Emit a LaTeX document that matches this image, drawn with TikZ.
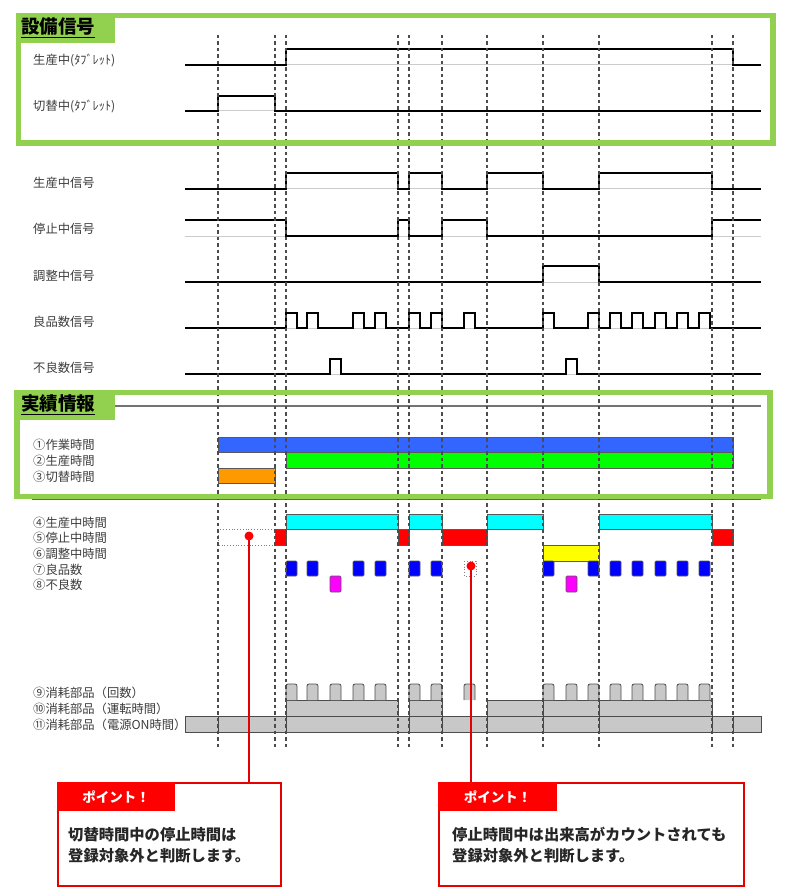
\documentclass[tikz,border=0pt]{standalone}
\usepackage{fontspec}
\setmainfont{Noto Sans CJK JP}
\definecolor{tgreen}{RGB}{146,208,80}
\definecolor{labelgray}{RGB}{60,60,60}
\definecolor{barblue}{RGB}{51,102,255}
\definecolor{bargreen}{RGB}{0,255,0}
\definecolor{barorange}{RGB}{255,153,0}
\definecolor{barcyan}{RGB}{0,255,255}
\definecolor{barred}{RGB}{255,0,0}
\definecolor{baryellow}{RGB}{255,255,0}
\definecolor{sqblue}{RGB}{0,0,255}
\definecolor{sqmag}{RGB}{255,0,255}
\definecolor{consgray}{RGB}{200,200,200}
\definecolor{ptred}{RGB}{230,0,0}
\begin{document}
\begin{tikzpicture}[x=1pt,y=-1pt,
  lbl/.style={anchor=west, text=labelgray, font=\fontsize{12.3}{14}\selectfont, inner sep=0pt},
  ttl/.style={anchor=west, text=black, font=\fontsize{18.5}{20}\selectfont\bfseries, inner sep=0pt},
  sig/.style={line width=1.5pt, black, line join=miter},
  basel/.style={line width=1pt, black!20},
  vdash/.style={line width=1.2pt, dash pattern=on 3.5pt off 3pt, black!70},
  gbox/.style={draw=tgreen, line width=5.5pt},
  bar/.style={draw=black!65, line width=0.6pt},
  cons/.style={draw=black!70, fill=consgray, line width=0.8pt},
  consline/.style={draw=black!75, line width=0.9pt},
  dotbox/.style={draw=black!50, dotted, line width=0.8pt},
  ptbox/.style={draw=ptred, line width=1.6pt, anchor=north west, inner sep=0pt},
  pttab/.style={fill=barred, anchor=north west, inner sep=0pt, text=white,
     font=\fontsize{13.5}{15}\selectfont\bfseries},
  pttext/.style={anchor=west, align=left, inner sep=0pt, text=black!85,
     font=\fontsize{15.3}{20.5}\selectfont\bfseries},
  reddot/.style={fill=barred, draw=none}
]
\useasboundingbox (0,0) rectangle (802,896);

% ---------- baselines (grey) ----------
\foreach \y in {65,111,189,236,282,328,374}
  \draw[basel] (185,\y) -- (761,\y);

% ---------- signals ----------
\draw[sig] (185,65) -- (286,65) -- (286,49) -- (733,49) -- (733,65) -- (761,65);
\draw[sig] (185,111) -- (218,111) -- (218,96) -- (275,96) -- (275,111) -- (761,111);
\draw[sig] (185,189) -- (286,189) -- (286,173) -- (398,173) -- (398,189) -- (409,189)
  -- (409,173) -- (442,173) -- (442,189) -- (487,189) -- (487,173) -- (543,173)
  -- (543,189) -- (599,189) -- (599,173) -- (712,173) -- (712,189) -- (761,189);
\draw[sig] (185,220) -- (286,220) -- (286,236) -- (398,236) -- (398,220) -- (409,220)
  -- (409,236) -- (442,236) -- (442,220) -- (487,220) -- (487,236) -- (712,236)
  -- (712,220) -- (761,220);
\draw[sig] (185,282) -- (543,282) -- (543,266) -- (599,266) -- (599,282) -- (761,282);
\draw[sig] (185,328)
  \foreach \s in {286,307,353,375,409,431,464,543,588,610,632,655,677,699}
   { -- (\s,328) -- (\s,313) -- ({\s+11},313) -- ({\s+11},328) } -- (761,328);
\draw[sig] (185,374)
  \foreach \s in {330,566}
   { -- (\s,374) -- (\s,359) -- ({\s+11},359) -- ({\s+11},374) } -- (761,374);

% ---------- signal labels ----------
\node[lbl] (l1) at (33,60) {生産中(ﾀﾌﾞﾚｯﾄ)};
\node[lbl] (l2) at (33,106) {切替中(ﾀﾌﾞﾚｯﾄ)};
\node[lbl] (l3) at (33,183) {生産中信号};
\node[lbl] (l4) at (33,229) {停止中信号};
\node[lbl] (l5) at (33,276) {調整中信号};
\node[lbl] (l6) at (33,322) {良品数信号};
\node[lbl] (l7) at (33,368) {不良数信号};

% ---------- result section lines ----------
\draw[line width=2.5pt, black!55] (115,406) -- (761,406);
\draw[line width=1.5pt, black!60] (32,499) -- (761,499);

% ---------- result bars ----------
\draw[bar, fill=barblue] (218,437) rectangle (733,452);
\draw[bar, fill=bargreen] (286,452) rectangle (733,468);
\draw[bar, fill=barorange] (218,468) rectangle (275,483);

\foreach \a/\b in {286/398,409/442,487/543,599/712}
  \draw[bar, fill=barcyan] (\a,514) rectangle (\b,529);
\foreach \a/\b in {275/286,398/409,442/487,712/733}
  \draw[bar, fill=barred] (\a,529) rectangle (\b,545);
\draw[dotbox] (218,529) rectangle (275,545);
\draw[bar, fill=baryellow] (543,545) rectangle (599,561);
\foreach \s in {286,307,353,375,409,431,543,588,610,632,655,677,699}
  \draw[bar, fill=sqblue, rounded corners=1pt] (\s,561) rectangle ({\s+11},576);
\draw[dotbox] (464,561) rectangle (476,576);
\foreach \s in {330,566}
  \draw[bar, fill=sqmag, rounded corners=1pt] (\s,576) rectangle ({\s+11},592);

% ---------- consumables ----------
\draw[cons] (185,716) rectangle (761,732);
\foreach \a/\b in {286/398,409/442,487/712}
  \draw[cons] (\a,700) rectangle (\b,716);
\foreach \s in {286,307,330,353,375,409,431,464,543,566,588,610,632,655,677,699}
  \draw[cons, rounded corners=2pt] (\s,700) -- (\s,684) -- ({\s+11},684) -- ({\s+11},700);
\foreach \x in {218,286,409,442,487,543,599,712,733}
  \draw[consline] (\x,716) -- (\x,732);
\foreach \x in {543,599}
  \draw[consline] (\x,700) -- (\x,716);

% ---------- result labels ----------
\node[lbl] (r1) at (33,445) {①作業時間};
\node[lbl] (r2) at (33,461) {②生産時間};
\node[lbl] (r3) at (33,477) {③切替時間};
\node[lbl] (r4) at (33,523) {④生産中時間};
\node[lbl] (r5) at (33,538) {⑤停止中時間};
\node[lbl] (r6) at (33,554) {⑥調整中時間};
\node[lbl] (r7) at (33,570) {⑦良品数};
\node[lbl] (r8) at (33,585) {⑧不良数};
\node[lbl] (r9) at (33,693) {⑨消耗部品（回数）};
\node[lbl] (r10) at (33,709) {⑩消耗部品（運転時間）};
\node[lbl] (r11) at (33,725) {⑪消耗部品（電源ON時間）};

% ---------- dashed time markers ----------
\foreach \x in {218,275,286,398,409,442,487,543,599,712,733}
  \draw[vdash] (\x,35) -- (\x,748);

% ---------- green frames ----------
\draw[gbox] (18.5,15.5) rectangle (773,143);
\fill[tgreen] (16,13) rectangle (115,43);
\node[ttl] (t1) at (21,28) {\underline{設備信号}};
\draw[gbox] (17,392.5) rectangle (770,496.5);
\fill[tgreen] (14,390) rectangle (115,420);
\node[ttl] (t2) at (21,405) {\underline{実績情報}};

% ---------- point boxes ----------
\node[ptbox, minimum width=223pt, minimum height=103pt] (p1) at (57,782) {};
\node[pttab, minimum width=118pt, minimum height=29pt] (p1t) at (57,782) {ポイント！};
\node[pttext] (p1x) at (68,845) {切替時間中の停止時間は\\登録対象外と判断します。};

\node[ptbox, minimum width=305pt, minimum height=103pt] (p2) at (438,782) {};
\node[pttab, minimum width=119pt, minimum height=29pt] (p2t) at (438,782) {ポイント！};
\node[pttext] (p2x) at (452,845) {停止時間中は出来高がカウントされても\\登録対象外と判断します。};

% ---------- red pointers ----------
\coordinate (d1) at (249,536);
\coordinate (d2) at (471,566);
\draw[ptred, line width=1.6pt] (d1) -- (d1 |- p1.north);
\draw[ptred, line width=1.6pt] (d2) -- (d2 |- p2.north);
\fill[reddot] (d1) circle (4.5pt);
\fill[reddot] (d2) circle (4.5pt);
\end{tikzpicture}
\end{document}
